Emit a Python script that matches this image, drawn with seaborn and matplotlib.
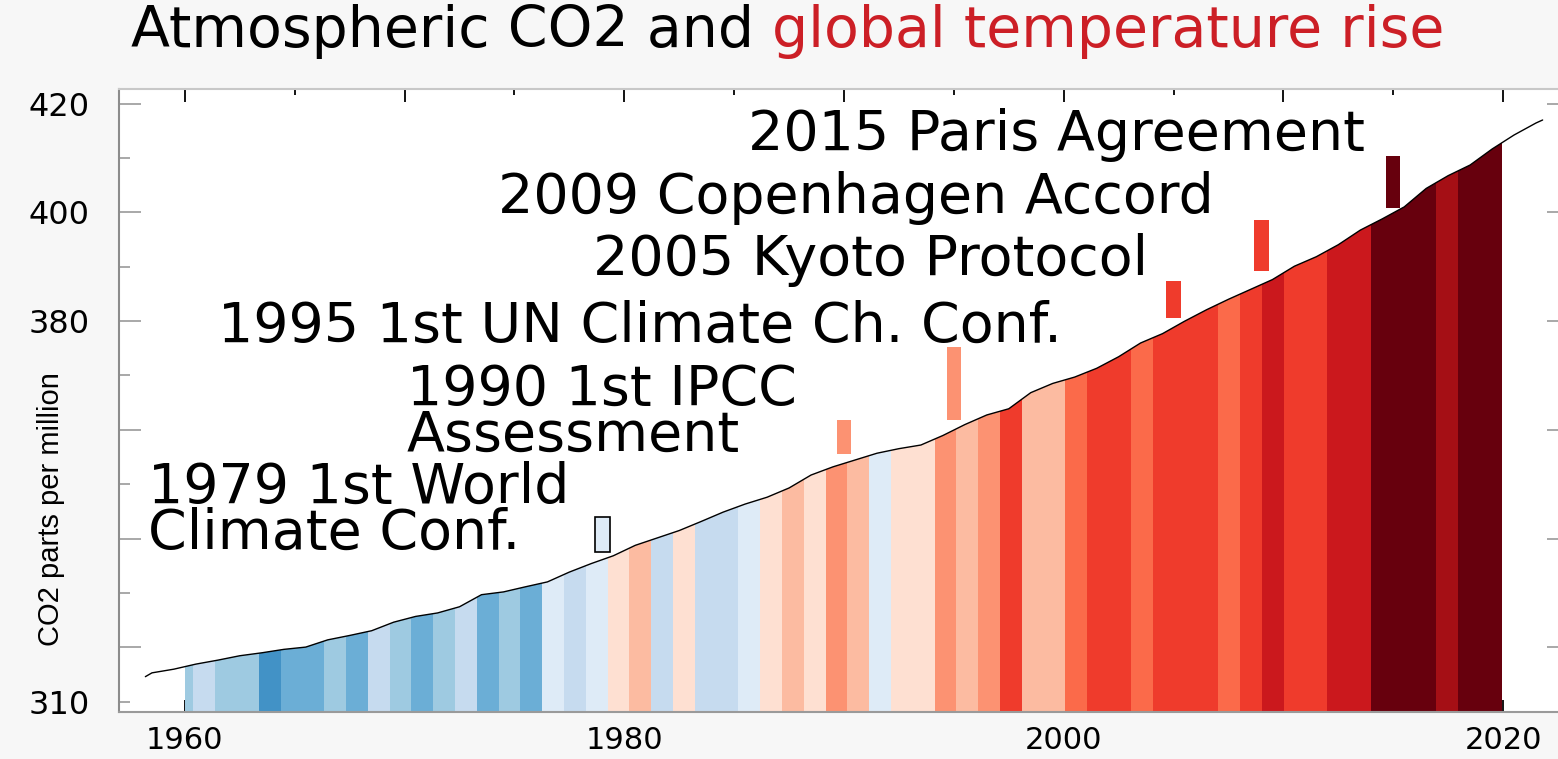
import numpy as np
import matplotlib
matplotlib.use('Agg')
import matplotlib.pyplot as plt
from matplotlib.ticker import FixedLocator, FuncFormatter
import seaborn as sns

# Tema
sns.set_theme(style='white')
plt.rcParams['font.family'] = ['DejaVu Sans']

# --- DADOS ---
# CO2 (Mauna Loa), ppm
co2_ano = [1958.2, 1958.5, 1959.5, 1960.5, 1961.5, 1962.5, 1963.5, 1964.5, 1965.5,
           1966.5, 1967.5, 1968.5, 1969.5, 1970.5, 1971.5, 1972.5, 1973.5, 1974.5,
           1975.5, 1976.5, 1977.5, 1978.5, 1979.5, 1980.5, 1981.5, 1982.5, 1983.5,
           1984.5, 1985.5, 1986.5, 1987.5, 1988.5, 1989.5, 1990.5, 1991.5, 1992.5,
           1993.5, 1994.5, 1995.5, 1996.5, 1997.5, 1998.5, 1999.5, 2000.5, 2001.5,
           2002.5, 2003.5, 2004.5, 2005.5, 2006.5, 2007.5, 2008.5, 2009.5, 2010.5,
           2011.5, 2012.5, 2013.5, 2014.5, 2015.5, 2016.5, 2017.5, 2018.5, 2019.5,
           2020.5, 2021.5, 2021.8]
co2_ppm = [314.6, 315.3, 315.98, 316.91, 317.64, 318.45, 318.99, 319.62, 320.04,
           321.37, 322.18, 323.05, 324.62, 325.68, 326.32, 327.46, 329.68, 330.19,
           331.13, 332.03, 333.84, 335.41, 336.84, 338.76, 340.12, 341.48, 343.15,
           344.87, 346.35, 347.61, 349.31, 351.69, 353.20, 354.45, 355.70, 356.54,
           357.21, 358.96, 360.97, 362.74, 363.88, 366.84, 368.54, 369.71, 371.32,
           373.45, 375.98, 377.70, 379.98, 382.09, 384.02, 385.83, 387.64, 390.10,
           391.85, 394.06, 396.74, 398.81, 401.01, 404.41, 406.76, 408.72, 411.66,
           414.24, 416.45, 417.0]

# Faixas de temperatura (1960-2020): classe de cor de cada ano
faixa_anos = list(range(1960, 2021))
faixa_nivel = [-3, -2, -3, -3, -5, -4, -4, -3, -4, -2,
               -3, -4, -3, -2, -4, -3, -4, -1, -2, -1,
               1, 2, -2, 1, -2, -2, -1, 1, 2, 1,
               3, 2, -1, 1, 1, 3, 2, 3, 5, 2,
               2, 4, 5, 5, 4, 5, 5, 5, 4, 5,
               6, 5, 5, 6, 6, 8, 8, 8, 7, 8,
               8]
cores_nivel = {-5: '#4292c6', -4: '#6baed6', -3: '#9ecae1', -2: '#c6dbef', -1: '#deebf7',
               1: '#fee0d2', 2: '#fcbba1', 3: '#fc9272', 4: '#fb6a4a', 5: '#ef3b2c',
               6: '#cb181d', 7: '#a50f15', 8: '#67000d'}

# Eventos
eventos_ano = [1979, 1990, 1995, 2005, 2009, 2015]
eventos_texto = ['1979 1st World\nClimate Conf.', '1990 1st IPCC\nAssessment',
                 '1995 1st UN Climate Ch. Conf.', '2005 Kyoto Protocol',
                 '2009 Copenhagen Accord', '2015 Paris Agreement']

# --- LAYOUT ---
marca_base = [337.6, 355.6, 361.9, 380.5, 389.3, 400.9]
marca_topo = [344.0, 361.8, 375.2, 387.4, 398.6, 410.4]
# (x, linha de base da 1a linha em ppm, alinhamento)
texto_pos = [(1958.32, 346.5, 'left'), (1970.09, 364.6, 'left'), (1980.70, 376.2, 'center'),
             (1991.22, 388.4, 'center'), (1990.56, 399.8, 'center'), (1999.67, 411.4, 'center')]
fs_ev = 40
em_px = fs_ev * 100 / 72
gap_px = 47
espaco = (gap_px - 0.236 * em_px) / (0.76 * em_px)

fig = plt.figure(figsize=(15.58, 7.59), dpi=100, facecolor='#f7f7f7')
ax = fig.add_axes([119 / 1558, 47 / 759, 1450 / 1558, 623 / 759])
ax.set_facecolor('white')

# Faixas coloridas recortadas pela área sob a curva
bordas = np.linspace(1959.39, 2019.93, len(faixa_anos) + 1)
bordas[0] = 1960.0
cores = [cores_nivel[n] for n in faixa_nivel]
barras = ax.bar(bordas[:-1], 130, bottom=300, width=np.diff(bordas), align='edge',
                color=cores, linewidth=0, zorder=1)
area = ax.fill_between(co2_ano, 300, co2_ppm, color='none', linewidth=0)
caminho = area.get_paths()[0]
for b in barras:
    b.set_clip_path(caminho, ax.transData)

# Curva de CO2
sns.lineplot(x=co2_ano, y=co2_ppm, color='black', linewidth=1.0, ax=ax, zorder=3)

# Marcadores dos eventos
cores_ev = [cores_nivel[faixa_nivel[a - 1960]] for a in eventos_ano]
bordas_ev = ['black' if a == 1979 else 'none' for a in eventos_ano]
ax.bar(eventos_ano, np.array(marca_topo) - np.array(marca_base), bottom=marca_base,
       width=0.66, color=cores_ev, edgecolor=bordas_ev, linewidth=1.2, zorder=2)

# Textos dos eventos (topo da caixa = linha de base + ascendente)
for txt, (x, y, ha) in zip(eventos_texto, texto_pos):
    ax.annotate(txt, xy=(x, y), xytext=(0, 0.76 * fs_ev), textcoords='offset points',
                ha=ha, va='top', multialignment='left', linespacing=espaco,
                fontsize=fs_ev, color='black', zorder=4)

ax.set_xlim(1957, 2023)
ax.set_ylim(308.1, 422.7)

# Eixos
x_rotulos = [1960, 1980, 2000, 2020]
ax.xaxis.set_major_locator(FixedLocator(list(range(1960, 2021, 10))))
ax.xaxis.set_minor_locator(FixedLocator(list(range(1965, 2021, 10))))
ax.xaxis.set_major_formatter(FuncFormatter(lambda v, p: f'{v:.0f}' if round(v) in x_rotulos else ''))
ax.tick_params(axis='x', which='both', direction='in', top=True, bottom=True,
               color='black', width=1.3, labelsize=22, pad=10, labelcolor='black')
ax.tick_params(axis='x', which='major', length=9)
ax.tick_params(axis='x', which='minor', length=4.5)

y_rotulos = [310, 380, 400, 420]
ax.yaxis.set_major_locator(FixedLocator(list(range(320, 421, 20))))
ax.yaxis.set_minor_locator(FixedLocator(list(range(310, 411, 20))))
fmt_y = FuncFormatter(lambda v, p: f'{v:.0f}' if round(v) in y_rotulos else '')
ax.yaxis.set_major_formatter(fmt_y)
ax.yaxis.set_minor_formatter(fmt_y)
ax.tick_params(axis='y', which='both', direction='in', left=True, right=True,
               color='#9a9a9a', width=1.2, labelsize=23, pad=21, labelcolor='black')
ax.tick_params(axis='y', which='major', length=16)
ax.tick_params(axis='y', which='minor', length=8)

for lado, cor in [('left', '#8c8c8c'), ('bottom', '#9a9a9a'), ('top', '#c8c8c8'), ('right', '#9a9a9a')]:
    ax.spines[lado].set_color(cor)
    ax.spines[lado].set_linewidth(1.5)

ax.set_xlabel('')
ax.set_ylabel('CO2 parts per million', fontsize=21, va='center', color='black',
              family='Liberation Sans')
ax.yaxis.set_label_coords(-0.0472, 0.326)

# Título em duas cores
fig.text(0.484, 1 - 47 / 759, 'Atmospheric CO2 and', ha='right', va='baseline',
         fontsize=41, color='black')
fig.text(0.4955, 1 - 47 / 759, 'global temperature rise', ha='left', va='baseline',
         fontsize=41, color='#cc1f26')

fig.savefig('out.png', dpi=100, facecolor=fig.get_facecolor())
